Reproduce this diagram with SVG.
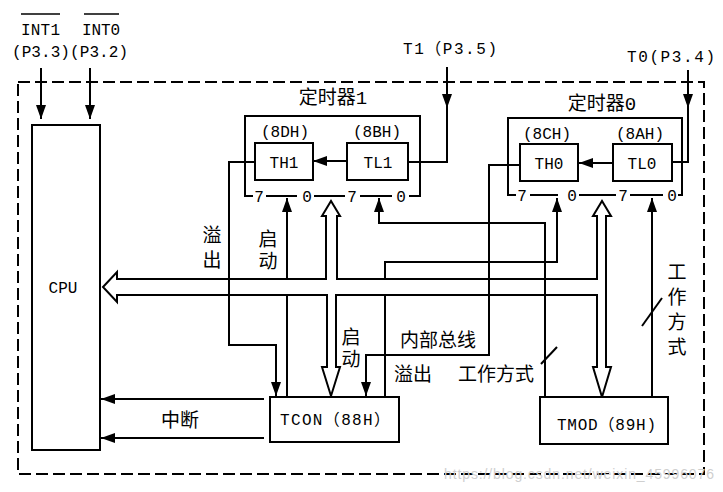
<svg xmlns="http://www.w3.org/2000/svg" width="723" height="492" viewBox="0 0 723 492">
<defs>
<style>
.ln{stroke:#000;stroke-width:2;fill:none}
.bx{stroke:#000;stroke-width:2;fill:#fff}
.t{font-family:"Liberation Mono","Noto Sans CJK SC",monospace;font-size:16px;fill:#000}
.c{font-family:"Noto Sans CJK SC",sans-serif;font-size:19px;fill:#000}
.v{font-family:"Noto Sans CJK SC",sans-serif;font-size:19px;fill:#000;writing-mode:vertical-rl}
.m{text-anchor:middle}
.dash{stroke:#000;stroke-width:2;fill:none;stroke-dasharray:12 5}
</style>
<marker id="ah" viewBox="0 0 14 10" refX="14" refY="5" markerWidth="14" markerHeight="10" markerUnits="userSpaceOnUse" orient="auto">
<path d="M0,0 L14,5 L0,10 z" fill="#000"/>
</marker>
</defs>
<rect width="723" height="492" fill="#fff"/>

<!-- outer dashed border -->
<rect id="border" x="18" y="82" width="686" height="392" class="dash"/>

<!-- external labels -->
<g id="int-labels">
<text class="t" x="21" y="35" textLength="39">INT1</text>
<line x1="21" y1="14" x2="60" y2="14" stroke="#000" stroke-width="1.5"/>
<text class="t" x="82" y="35" textLength="38">INT0</text>
<line x1="84" y1="14" x2="119" y2="14" stroke="#000" stroke-width="1.5"/>
<text class="t" x="12" y="57" textLength="116">(P3.3)(P3.2)</text>
</g>

<g id="connectors">
<!-- INT arrows -->
<path class="ln" d="M41,68 V119" marker-end="url(#ah)"/>
<path class="ln" d="M90,68 V119" marker-end="url(#ah)"/>
<!-- T1 input -->
<path class="ln" d="M447,67 V108" marker-end="url(#ah)"/>
<path class="ln" d="M447,100 V162 H408"/>
<!-- T0 input -->
<path class="ln" d="M688,70 V108" marker-end="url(#ah)"/>
<path class="ln" d="M688,100 V162 H672"/>
<!-- TL -> TH -->
<path class="ln" d="M347,161 H313" marker-end="url(#ah)"/>
<path class="ln" d="M613,163 H579" marker-end="url(#ah)"/>
<!-- start lines (pass under bus) -->
<path class="ln" d="M287,397 V198" marker-end="url(#ah)"/>
<path class="ln" d="M385,397 V262 H557 V198" marker-end="url(#ah)"/>
<!-- internal bus -->
<polygon class="bx" points="103,287 117,272 117,279 326,279 326,216 322,216 331,201 340,216 337,216 337,279 597,279 597,216 593,216 602,201 611,216 606,216 606,367 611,367 602,397 593,367 597,367 597,295 336,295 336,367 340,367 331,396 322,367 327,367 327,295 117,295 117,302"/>
<!-- overflow lines (cross over bus) -->
<path class="ln" d="M255,162 H229 V345 H276 V396" marker-end="url(#ah)"/>
<path class="ln" d="M520,165 H489 V355 H366 V396" marker-end="url(#ah)"/>
<!-- mode lines -->
<path class="ln" d="M545,397 V223 H379 V198" marker-end="url(#ah)"/>
<path class="ln" d="M652,397 V198" marker-end="url(#ah)"/>
<line class="ln" x1="541" y1="364" x2="557" y2="347" stroke-width="1.5"/>
<line class="ln" x1="642" y1="326" x2="662" y2="298" stroke-width="1.5"/>
<!-- interrupt to CPU -->
<path class="ln" d="M264,399 H101" marker-end="url(#ah)"/>
<path class="ln" d="M264,438 H101" marker-end="url(#ah)"/>
</g>

<g id="cpu">
<rect class="bx" x="32" y="125" width="68" height="325" fill="none"/>
<text class="t m" x="63" y="293" font-size="17">CPU</text>
</g>

<g id="timer1">
<path class="ln" d="M253,196 H245 V116 H420 V196 H409 M266,196 H297 M314,196 H345 M360,196 H392"/>
<text class="t m" x="259" y="202">7</text>
<text class="t m" x="307" y="202">0</text>
<text class="t m" x="352" y="202">7</text>
<text class="t m" x="401" y="202">0</text>
<text class="c m" x="333" y="104">定时器<tspan font-family="Liberation Mono">1</tspan></text>
<text class="t m" x="285" y="137">(8DH)</text>
<text class="t m" x="377" y="137">(8BH)</text>
</g>
<g id="th1">
<rect class="bx" x="255" y="143" width="58" height="37"/>
<text class="t m" x="284" y="168">TH1</text>
</g>
<g id="tl1">
<rect class="bx" x="347" y="143" width="61" height="37"/>
<text class="t m" x="378" y="168">TL1</text>
</g>

<g id="timer0">
<path class="ln" d="M516,195 H508 V118 H682 V195 H678 M530,195 H558 M579,195 H616 M630,195 H663"/>
<text class="t m" x="522" y="201">7</text>
<text class="t m" x="572" y="201">0</text>
<text class="t m" x="623" y="201">7</text>
<text class="t m" x="672" y="201">0</text>
<text class="c m" x="602" y="110">定时器<tspan font-family="Liberation Mono">0</tspan></text>
<text class="t m" x="547" y="139">(8CH)</text>
<text class="t m" x="640" y="139">(8AH)</text>
</g>
<g id="th0">
<rect class="bx" x="520" y="144" width="58" height="37"/>
<text class="t m" x="549" y="169">TH0</text>
</g>
<g id="tl0">
<rect class="bx" x="613" y="144" width="59" height="37"/>
<text class="t m" x="642" y="169">TL0</text>
</g>

<g id="tcon">
<rect class="bx" x="270" y="397" width="129" height="45"/>
<text class="t" x="280" y="425" font-size="17" textLength="110">TCON（88H）</text>
</g>
<g id="tmod">
<rect class="bx" x="540" y="397" width="128" height="47"/>
<text class="t" x="557" y="430" font-size="17" textLength="99">TMOD（89H)</text>
</g>

<g id="labels">
<text class="t" x="403" y="54" textLength="94">T1（P3.5)</text>
<text class="t" x="627" y="62" textLength="88">T0(P3.4)</text>
<text class="v" x="212" y="225" letter-spacing="6">溢出</text>
<text class="v" x="268" y="229" letter-spacing="3">启动</text>
<text class="v" x="351" y="327" letter-spacing="3">启动</text>
<text class="c" x="400" y="347">内部总线</text>
<text class="c" x="394" y="381">溢出</text>
<text class="c" x="458" y="381">工作方式</text>
<text class="v" x="677" y="262" letter-spacing="6">工作方式</text>
<text class="c m" x="180" y="427">中断</text>
</g>

<text x="444" y="479" font-family="Liberation Sans, sans-serif" font-size="14" fill="#cfcfcf" textLength="270">https://blog.csdn.net/weixin_45996076</text>
</svg>
